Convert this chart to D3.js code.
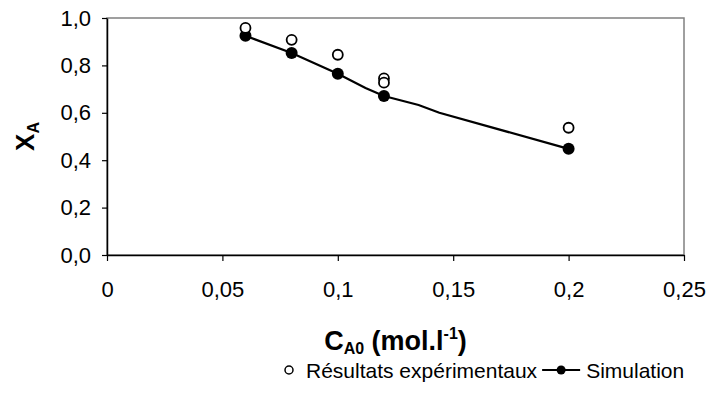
<!DOCTYPE html>
<html>
<head>
<meta charset="utf-8">
<script src="https://cdn.jsdelivr.net/npm/d3@7"></script>
<style>
  body { margin: 0; background: #fff; }
  svg { display: block; font-family: "Liberation Sans", Arial, sans-serif; }
  .tick text { font-size: 22px; fill: #000; }
</style>
</head>
<body>
<div id="chart"></div>
<script>
// Experimental results (open circles)
const expX = [0.06, 0.08, 0.1, 0.12, 0.12, 0.2];
const expY = [0.958, 0.908, 0.845, 0.745, 0.727, 0.537];

// Simulation markers (filled circles)
const simX = [0.06, 0.08, 0.1, 0.12, 0.2];
const simY = [0.925, 0.852, 0.765, 0.671, 0.448];

// Simulation curve (line, no markers)
const curveX = [0.06, 0.08, 0.1, 0.112, 0.12, 0.135, 0.144, 0.2];
const curveY = [0.925, 0.852, 0.765, 0.705, 0.671, 0.633, 0.6, 0.448];

const xTicks = [0, 0.05, 0.1, 0.15, 0.2, 0.25];
const yTicks = [0, 0.2, 0.4, 0.6, 0.8, 1.0];

const W = 711, H = 399;
const margin = { top: 18, left: 107, right: 27, bottom: 144 };
const width = W - margin.left - margin.right,
    height = H - margin.top - margin.bottom;

const svg = d3.select('#chart')
    .append('svg')
    .attr('width', W)
    .attr('height', H);

const g = svg.append('g')
    .attr('transform', 'translate(' + margin.left + ',' + margin.top + ')');

const xScale = d3.scaleLinear().domain([0, 0.25]).range([0, width]);
const yScale = d3.scaleLinear().domain([0, 1]).range([height, 0]);

const comma = f => d => d3.format(f)(d).replace('.', ',');

// plot area border (grey top and right)
g.append('rect')
    .attr('width', width)
    .attr('height', height)
    .attr('fill', 'none')
    .attr('stroke', '#808080')
    .attr('stroke-width', 1.5);

// Y axis
const yAxis = g.append('g')
    .call(d3.axisLeft(yScale).tickValues(yTicks).tickFormat(comma('.1f'))
        .tickSize(5).tickSizeOuter(0).tickPadding(11));

// X axis
const xAxis = g.append('g')
    .attr('transform', 'translate(0,' + height + ')')
    .call(d3.axisBottom(xScale).tickValues(xTicks).tickFormat(comma('~g'))
        .tickSize(6).tickSizeOuter(0).tickPadding(20));

[xAxis, yAxis].forEach(a => {
    a.select('.domain').attr('stroke', '#000').attr('stroke-width', 1.5);
    a.selectAll('.tick line').attr('stroke', '#000').attr('stroke-width', 1.2);
    a.selectAll('text').attr('font-family', null).attr('font-size', null);
});

// simulation curve
const curve = curveX.map((x, i) => [x, curveY[i]]);
g.append('path')
    .datum(curve)
    .attr('fill', 'none')
    .attr('stroke', '#000')
    .attr('stroke-width', 2.2)
    .attr('d', d3.line().x(d => xScale(d[0])).y(d => yScale(d[1])));

// simulation markers
g.append('g')
    .selectAll('circle')
    .data(simX.map((x, i) => [x, simY[i]]))
    .join('circle')
    .attr('cx', d => xScale(d[0]))
    .attr('cy', d => yScale(d[1]))
    .attr('r', 6)
    .attr('fill', '#000');

// experimental markers
g.append('g')
    .selectAll('circle')
    .data(expX.map((x, i) => [x, expY[i]]))
    .join('circle')
    .attr('cx', d => xScale(d[0]))
    .attr('cy', d => yScale(d[1]))
    .attr('r', 5)
    .attr('fill', '#fff')
    .attr('stroke', '#000')
    .attr('stroke-width', 1.8);

// Y axis title
const yt = svg.append('text')
    .attr('transform', 'translate(34,' + (margin.top + height / 2) + ') rotate(-90)')
    .attr('text-anchor', 'middle')
    .attr('font-weight', 'bold')
    .attr('font-size', 26);
yt.append('tspan').text('X');
yt.append('tspan').attr('font-size', 16).attr('dy', 5).text('A');

// X axis title
const xt = svg.append('text')
    .attr('x', margin.left + width / 2)
    .attr('y', 350)
    .attr('text-anchor', 'middle')
    .attr('font-weight', 'bold')
    .attr('font-size', 27);
xt.append('tspan').text('C');
xt.append('tspan').attr('font-size', 16).attr('dy', 4).text('A0');
xt.append('tspan').attr('dy', -4).text(' (mol.l');
xt.append('tspan').attr('font-size', 16).attr('dy', -11).text('-1');
xt.append('tspan').attr('dy', 11).text(')');

// Legend
const leg = svg.append('g').attr('transform', 'translate(0,370)');
leg.append('circle')
    .attr('cx', 289).attr('cy', 0).attr('r', 4)
    .attr('fill', '#fff').attr('stroke', '#000').attr('stroke-width', 1.5);
const t1 = leg.append('text')
    .attr('x', 306).attr('y', 8)
    .attr('font-size', 21)
    .text('Résultats expérimentaux');
const lx = 306 + t1.node().getComputedTextLength() + 5;
leg.append('line')
    .attr('x1', lx).attr('x2', lx + 38).attr('y1', 0).attr('y2', 0)
    .attr('stroke', '#000').attr('stroke-width', 2);
leg.append('circle')
    .attr('cx', lx + 19).attr('cy', 0).attr('r', 4.5).attr('fill', '#000');
leg.append('text')
    .attr('x', lx + 44).attr('y', 8)
    .attr('font-size', 21)
    .text('Simulation');
</script>
</body>
</html>
